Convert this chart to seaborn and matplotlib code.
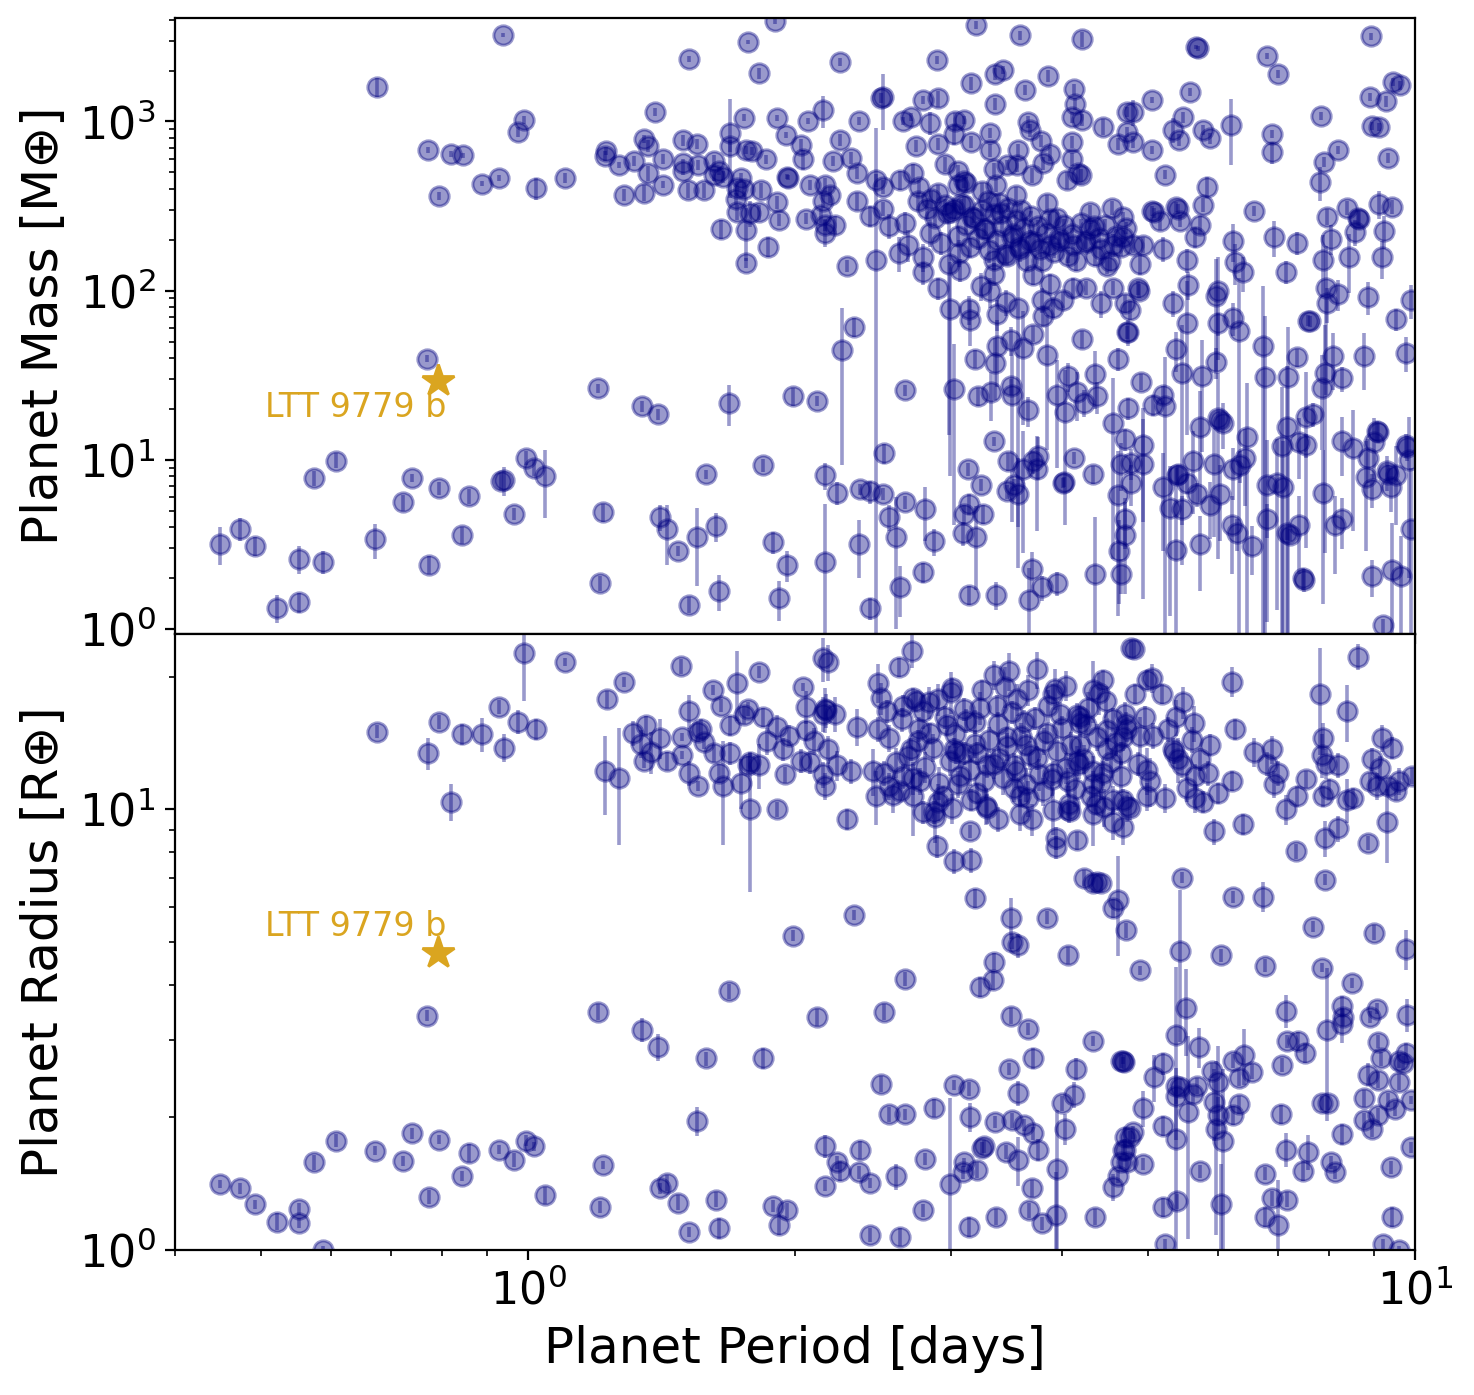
import matplotlib
matplotlib.use("Agg")
import matplotlib.pyplot as plt
import seaborn as sns

# Known planets: orbital period [days], mass [Earth masses], mass error
mass_period = [
    0.676, 0.772, 0.819, 0.845, 0.794, 0.888, 0.928, 0.937, 0.770, 0.608,
    0.574, 0.740, 0.794, 0.723, 0.858, 0.932, 0.450, 0.474, 0.493, 0.552,
    0.588, 0.672, 0.843, 0.774, 0.521, 0.552,
    1.52, 1.77, 1.90, 1.82, 1.39, 0.99, 0.974, 1.02, 1.10, 1.224,
    1.22, 1.266, 1.316, 1.35, 1.365, 1.365, 1.283, 1.35, 1.42, 1.42,
    1.495, 1.55, 1.495, 1.556, 1.62, 1.514, 1.58, 1.62, 1.66, 1.69,
    1.69, 1.75, 1.76, 1.79, 1.854, 1.907, 1.952, 2.07, 2.03, 2.04,
    2.15, 1.74, 1.72, 1.75, 1.83, 1.715, 1.72, 1.78, 1.82, 1.91,
    1.92, 1.65, 1.76, 1.76, 1.864, 1.96, 1.965, 2.06, 2.08, 2.15,
    2.16, 2.16, 1.495, 1.64, 1.20, 1.344, 1.40, 1.685, 1.99, 2.12,
    0.995, 1.016, 1.045, 0.94, 0.964, 1.215, 1.586, 1.84, 1.41, 1.434,
    1.475, 1.55, 1.628, 1.89, 1.957, 2.16, 2.16, 1.205, 1.52, 1.64,
    1.92,
    3.20, 3.59, 4.21, 2.25, 2.89, 2.51, 2.50, 2.786, 2.90, 3.365,
    3.43, 3.16, 3.63, 3.86, 4.13, 4.14, 3.365, 4.10, 4.21, 4.45,
    4.63, 4.74, 2.36, 2.65, 2.70, 2.84, 3.03, 3.10, 2.245, 3.02,
    3.16, 3.32, 3.32, 3.66, 3.68, 3.79, 3.57, 4.10, 3.88, 2.735,
    2.90, 4.10, 3.56, 3.81, 4.17, 4.20, 2.21, 2.31, 2.35, 2.35,
    2.16, 2.19, 2.14, 2.22, 2.466, 2.51, 2.51, 2.43, 2.55, 2.63,
    2.715, 2.76, 2.66, 2.75, 2.82, 2.68, 2.62, 2.79, 2.79, 2.90,
    2.84, 2.92, 2.90, 2.97, 3.02, 3.10, 3.10, 3.12, 3.05, 3.06,
    3.07, 2.98, 3.17, 3.27, 3.30, 3.37, 3.41, 3.47, 3.51, 3.59,
    3.68, 3.78, 3.88, 3.98, 4.12, 4.26, 4.42, 4.57, 3.47, 3.35,
    3.35, 3.24, 3.32, 3.14, 3.15, 2.99, 3.38, 3.46, 3.57, 3.38,
    3.50, 3.61, 3.365, 3.19, 3.71, 3.85, 3.71, 3.80, 3.88, 3.91,
    4.01, 4.12, 4.26, 4.42, 4.57, 4.71, 3.81, 4.21, 4.62, 4.74,
    4.36, 4.06, 3.95, 4.16, 4.38, 4.03, 4.24, 4.57, 3.66, 3.50,
    3.51, 3.33, 3.22, 3.02, 2.66, 2.26, 2.33, 2.29, 2.466, 2.52,
    2.23, 2.37, 2.43, 2.51, 2.55, 2.60, 2.66, 2.80, 2.87, 2.36,
    2.63, 2.79, 2.43, 3.13, 3.24, 3.14, 3.10, 3.26, 3.09, 3.20,
    3.14, 3.37, 3.35, 3.48, 3.61, 3.71, 3.76, 3.75, 3.47, 3.57,
    3.53, 4.01, 4.02, 4.13, 4.33, 4.63, 4.66, 3.70, 3.67, 3.80,
    3.95, 4.36, 4.64, 4.66,
    5.67, 5.70, 6.81, 7.01, 8.92, 9.44, 9.62, 5.05, 5.57, 4.81,
    5.48, 5.34, 5.42, 5.77, 5.87, 6.21, 4.74, 4.81, 5.05, 5.23,
    5.82, 6.90, 6.90, 7.84, 8.19, 7.90, 7.82, 8.89, 9.28, 8.94,
    9.10, 9.33, 6.59, 8.38, 8.62, 8.64, 9.10, 9.42, 8.56, 9.22,
    7.96, 8.03, 6.93, 7.36, 6.24, 6.27, 6.39, 7.16, 7.88, 8.43,
    9.18, 7.94, 7.96, 8.19, 8.84, 9.9, 9.53, 7.58, 7.62, 7.36,
    8.08, 8.75, 9.78, 7.92, 8.28, 7.86, 7.20, 6.78, 5.97, 5.37,
    6.74, 5.46, 5.75, 4.91, 6.0, 5.96, 5.55, 5.34, 5.53, 6.0,
    6.24, 6.34, 4.87, 4.89, 4.77, 4.75, 4.81, 4.94, 5.05, 5.08,
    5.16, 5.37, 5.40, 5.44, 5.65, 5.72, 5.77, 5.2, 5.53, 4.90,
    4.69, 4.69, 5.2, 5.07, 5.23, 4.75, 5.72, 6.0, 6.02, 6.07,
    6.47, 7.18, 7.54, 7.67, 7.40, 7.54, 7.08, 8.28, 8.51, 8.84,
    9.06, 9.09, 9.0, 9.29, 9.32, 9.52, 9.76, 9.80, 9.85, 9.39,
    8.94, 8.81, 4.71, 4.78, 4.93, 4.93, 4.78, 5.2, 5.39, 5.41,
    5.53, 5.62, 5.3, 5.46, 5.68, 5.88, 5.93, 6.03, 6.24, 6.43,
    6.35, 6.81, 6.98, 7.10, 6.81, 6.22, 6.30, 7.18, 7.22, 7.40,
    8.13, 8.28, 7.88, 6.55, 5.38, 5.72, 7.47, 7.50, 8.94, 9.42,
    9.65, 9.2, 9.9, 4.71, 4.71,
]
mass_value = [
    1600, 679, 643, 630, 363, 428, 464, 3240, 39.7, 9.9,
    7.8, 7.8, 6.8, 5.6, 6.1, 7.5, 3.2, 3.9, 3.1, 2.6,
    2.5, 3.4, 3.6, 2.4, 1.33, 1.44,
    2340, 2940, 3920, 1930, 1138, 1020, 867, 405, 464, 670,
    626, 554, 585, 788, 717, 497, 368, 379, 422, 601,
    773, 737, 569, 554, 585, 394, 394, 484, 471, 855,
    717, 1050, 679, 670, 597, 1050, 832, 1007, 727, 597,
    1170, 464, 405, 400, 394, 349, 292, 289, 292, 335,
    262, 232, 229, 146, 182, 471, 465, 266, 422, 340,
    245, 220, 510, 510, 26.4, 20.7, 18.6, 21.8, 23.7, 22.4,
    10.3, 9.0, 8.0, 7.6, 4.8, 4.9, 8.2, 9.3, 4.6, 3.9,
    2.9, 3.5, 4.05, 3.26, 2.39, 2.49, 8.1, 1.87, 1.39, 1.68,
    1.52,
    3710, 3240, 3070, 2244, 2306, 1395, 1380, 1340, 1370, 1906,
    2014, 1687, 1534, 1855, 1555, 1268, 1268, 1064, 1020, 929,
    737, 1138, 1007, 1007, 1064, 980, 1007, 1020, 778, 844,
    757, 855, 679, 993, 891, 767, 679, 757, 643, 717,
    737, 597, 554, 569, 497, 480, 585, 609, 497, 340,
    422, 370, 280, 245, 452, 411, 305, 277, 242, 452,
    497, 411, 252, 340, 305, 187, 168, 159, 128, 103,
    220, 192, 379, 289, 305, 322, 445, 430, 510, 168,
    133, 144, 273, 232, 340, 422, 289, 554, 208, 177,
    197, 177, 187, 197, 187, 197, 177, 187, 161, 152,
    126, 107, 99, 78, 67, 78, 73, 86, 79, 47,
    51, 46, 37.6, 39.7, 55.7, 41.4, 123, 88.5, 110, 79,
    88.5, 104, 104, 84, 104, 84, 71, 52, 39.7, 57,
    32, 31.1, 24, 25, 23.7, 19.1, 21.8, 16.6, 19.6, 27.2,
    24.3, 25, 23.7, 26.1, 25.7, 44.3, 61.3, 140, 152, 10.9,
    6.4, 6.7, 6.5, 6.3, 4.6, 3.5, 5.6, 5.1, 3.3, 3.2,
    1.77, 2.17, 1.33, 8.8, 7.1, 5.5, 4.8, 4.8, 3.7, 3.5,
    1.59, 1.59, 12.9, 9.8, 8.8, 9.8, 10.6, 8.8, 6.5, 6.3,
    7.1, 7.3, 7.4, 10.3, 8.2, 6.2, 9.5, 2.26, 1.48, 1.77,
    1.87, 2.11, 2.9, 2.11,
    2750, 2700, 2434, 1906, 3195, 1711, 1643, 1340, 1493, 1138,
    1064, 891, 778, 891, 800, 953, 867, 757, 679, 484,
    411, 844, 661, 1078, 679, 577, 440, 1395, 1321, 940,
    929, 609, 297, 309, 270, 265, 326, 313, 223, 226,
    273, 203, 208, 192, 197, 148, 128, 129, 152, 157,
    157, 104, 84, 96, 92, 88, 68, 66.5, 66, 40.3,
    41, 41, 43, 32.8, 30.3, 26.4, 30.7, 31, 38.1, 44.9,
    47, 32.4, 31.1, 29, 99, 93.5, 108, 85, 64, 64,
    69, 58, 104, 100, 77, 57, 187, 187, 297, 290,
    259, 313, 305, 259, 208, 245, 322, 177, 152, 144,
    273, 208, 24.3, 21.2, 20.7, 20.2, 15.6, 17.6, 17.3, 16.6,
    13.6, 15.7, 18, 18.6, 12.7, 12.2, 12.0, 13, 11.8, 10.3,
    14.9, 14.6, 12.7, 8.55, 8.3, 8.1, 12.3, 11.9, 10, 6.9,
    6.7, 7.9, 13.2, 9.6, 12.3, 9.5, 7.3, 6.9, 8.1, 8.3,
    7.3, 9.8, 5.2, 5.1, 6.25, 5.4, 9.5, 6.3, 8.8, 10.3,
    9.3, 7.1, 7.3, 6.9, 4.46, 4.1, 3.68, 3.68, 3.6, 4.1,
    4.1, 4.46, 6.4, 3.09, 2.92, 3.17, 2.0, 1.95, 2.05, 2.23,
    2.05, 1.05, 3.9, 4.46, 3.6,
]
mass_err = [
    200, 25, 25, 25, 20, 15, 20, 100, 2, 1.0,
    0.8, 0.4, 0.6, 0.6, 0.6, 0.9, 0.8, 0.6, 0.4, 0.5,
    0.4, 0.8, 0.4, 0.3, 0.25, 0.2,
    100, 80, 150, 150, 60, 60, 60, 60, 30, 40,
    40, 25, 40, 40, 60, 50, 30, 40, 20, 40,
    60, 50, 30, 40, 50, 40, 40, 40, 40, 500,
    60, 50, 40, 40, 40, 40, 30, 40, 60, 80,
    250, 30, 40, 40, 40, 30, 30, 50, 30, 30,
    20, 30, 80, 10, 25, 15, 15, 20, 30, 30,
    20, 40, 30, 30, 1.5, 1.5, 1.5, 6, 3, 1.5,
    1.0, 1.0, 3.5, 1.5, 0.4, 0.6, 0.5, 0.8, 0.8, 1.5,
    0.2, 1.7, 0.8, 0.5, 0.5, 3.0, 1.5, 0.2, 0.15, 0.4,
    0.4,
    200, 200, 300, 120, 120, 500, 100, 80, 150, 150,
    100, 150, 100, 150, 120, 100, 100, 80, 80, 100,
    60, 80, 60, 60, 60, 150, 120, 60, 60, 120,
    60, 60, 60, 80, 80, 60, 60, 60, 60, 60,
    60, 50, 50, 50, 60, 40, 40, 50, 40, 40,
    40, 40, 30, 30, 40, 40, 30, 40, 40, 60,
    60, 40, 40, 40, 40, 40, 40, 30, 20, 15,
    40, 30, 40, 40, 40, 40, 40, 40, 40, 30,
    20, 130, 30, 30, 40, 40, 30, 40, 30, 30,
    30, 20, 20, 20, 20, 20, 20, 30, 20, 20,
    20, 20, 20, 15, 20, 70, 15, 15, 75, 20,
    10, 30, 15, 5, 6, 30, 15, 15, 15, 10,
    10, 15, 10, 15, 10, 10, 10, 6, 6, 5,
    12, 6, 15, 8, 5, 15, 4, 14, 4, 3,
    20, 8, 3, 22, 2, 35, 8, 12, 760, 1.5,
    1.0, 0.5, 1.0, 0.5, 0.8, 2.5, 0.5, 1.8, 0.6, 1.2,
    0.6, 0.3, 0.2, 0.8, 0.6, 0.8, 0.6, 0.6, 0.6, 1.8,
    0.2, 0.3, 0.8, 1.2, 6, 1.5, 3, 5, 0.6, 4,
    0.6, 0.5, 0.5, 0.8, 1.0, 5, 3, 0.6, 0.8, 0.3,
    0.3, 2.5, 1.5, 0.5,
    80, 80, 100, 100, 150, 100, 100, 60, 80, 200,
    80, 150, 60, 60, 60, 400, 60, 60, 40, 30,
    60, 50, 100, 60, 40, 40, 100, 80, 100, 50,
    50, 40, 20, 30, 30, 30, 60, 30, 40, 50,
    30, 40, 50, 30, 50, 40, 30, 20, 60, 60,
    40, 80, 20, 20, 20, 20, 10, 5, 5, 5,
    15, 15, 10, 30, 5, 15, 30, 40, 8, 12,
    60, 30, 20, 3, 60, 60, 20, 15, 50, 10,
    15, 60, 10, 10, 10, 10, 20, 20, 20, 20,
    30, 20, 20, 20, 30, 30, 30, 30, 25, 20,
    20, 20, 3, 3, 20, 3, 10, 15, 2, 5,
    15, 20, 15, 3, 5, 2, 15, 5, 8, 3,
    2, 2, 5, 2, 1, 4, 2, 2, 8, 2,
    1.5, 5, 2, 2, 8, 8, 2, 4, 1, 1,
    1, 5, 4, 1, 1, 2, 6, 3, 3, 5,
    2, 6, 6, 6, 1, 2, 0.8, 0.3, 0.3, 2,
    2, 1.5, 5, 1, 6, 1.5, 0.3, 0.3, 0.5, 2,
    1.5, 0.1, 5, 1.5, 2,
]

# Crowded hot-Jupiter band (3-5 days) in the mass panel
band_mass_period = [
    3.00, 3.05, 3.08, 3.12, 3.15, 3.18, 3.22, 3.25, 3.28, 3.31,
    3.35, 3.38, 3.42, 3.45, 3.48, 3.52, 3.55, 3.58, 3.62, 3.65,
    3.69, 3.72, 3.76, 3.80, 3.84, 3.88, 3.92, 3.97, 4.02, 4.06,
    4.10, 4.15, 4.20, 4.25, 4.30, 4.36, 4.40, 4.47, 4.53, 4.60,
    4.66, 4.72, 2.95, 2.88, 2.85, 3.40, 3.60, 3.95, 4.35, 4.50,
    3.05, 3.25, 3.55, 3.85, 4.30, 4.05, 3.70, 3.35, 2.95, 4.55,
]
band_mass_value = [
    290, 210, 325, 245, 180, 270, 205, 300, 230, 175,
    285, 200, 240, 165, 310, 215, 260, 180, 235, 150,
    275, 195, 240, 150, 220, 265, 170, 205, 245, 160,
    215, 150, 250, 190, 230, 160, 205, 245, 150, 210,
    180, 235, 320, 270, 350, 330, 300, 270, 240, 140,
    420, 390, 370, 330, 290, 450, 480, 520, 560, 310,
]
band_mass_err = [
    30, 30, 25, 30, 25, 20, 30, 25, 20, 30,
    25, 20, 25, 20, 20, 25, 20, 20, 25, 20,
    20, 20, 20, 20, 20, 20, 15, 20, 20, 15,
    20, 20, 15, 20, 20, 20, 15, 20, 20, 20,
    20, 20, 30, 30, 40, 40, 30, 30, 30, 15,
    40, 40, 40, 40, 30, 50, 50, 50, 60, 30,
]

# Known planets: orbital period [days], radius [Earth radii], radius error
radius_period = [
    0.676, 0.794, 0.772, 0.843, 0.888, 0.928, 0.94, 0.819, 0.770, 0.450,
    0.474, 0.493, 0.521, 0.552, 0.552, 0.588, 0.574, 0.608, 0.672, 0.723,
    0.740, 0.794, 0.858, 0.843, 0.774, 0.928,
    0.99, 1.10, 0.974, 1.02, 1.283, 1.227, 1.487, 1.22, 1.266, 1.313,
    1.34, 1.358, 1.375, 1.35, 1.41, 1.434, 1.49, 1.49, 1.52, 1.555,
    1.565, 1.58, 1.62, 1.52, 1.555, 1.616, 1.72, 1.82, 1.65, 1.69,
    1.75, 1.77, 1.69, 1.77, 1.78, 1.64, 1.66, 1.74, 1.78, 1.82,
    1.84, 1.91, 1.86, 1.95, 1.91, 1.97, 1.94, 2.04, 2.06, 2.03,
    2.08, 2.06, 2.15, 2.15, 2.17, 2.16, 2.15, 2.10, 1.99, 1.685,
    2.12, 1.20, 1.344, 1.40, 1.586, 1.84, 1.55, 0.995, 1.016, 0.964,
    1.045, 1.215, 1.205, 1.41, 1.434, 1.475, 1.628, 1.52, 1.64, 1.89,
    1.957, 1.92, 2.16, 2.16,
    2.71, 2.62, 2.48, 2.50, 2.18, 3.01, 3.49, 3.75, 3.35, 4.04,
    4.45, 4.34, 4.78, 3.25, 3.66, 2.72, 2.74, 2.16, 2.22, 2.35,
    2.48, 2.54, 2.65, 2.79, 2.90, 3.10, 3.19, 3.38, 3.56, 3.62,
    3.91, 3.98, 4.16, 4.19, 4.26, 4.48, 4.57, 4.68, 2.18, 2.23,
    2.31, 2.45, 2.52, 2.55, 2.47, 2.63, 2.65, 2.70, 2.77, 2.72,
    2.79, 2.87, 2.88, 2.89, 3.02, 3.16, 3.15, 3.01, 2.94, 3.05,
    3.02, 3.04, 3.10, 2.97, 2.84, 2.75, 3.21, 3.29, 3.40, 3.21,
    3.16, 3.29, 3.39, 3.53, 3.59, 3.59, 3.70, 3.53, 3.47, 3.64,
    3.75, 3.85, 3.81, 3.91, 3.91, 4.06, 4.08, 3.94, 3.94, 4.16,
    4.06, 4.16, 4.18, 4.19, 4.34, 4.31, 4.37, 4.33, 4.45, 4.50,
    4.66, 4.57, 4.56, 4.68, 4.74, 2.29, 4.24, 4.34, 4.38, 4.42,
    4.62, 4.56, 4.72, 3.19, 3.50, 3.85, 3.51, 3.57, 4.06, 3.35,
    3.34, 3.23, 2.33, 2.66, 2.52, 3.50, 3.66, 4.33, 3.71, 3.49,
    4.15, 4.66, 4.70, 3.57, 4.13, 4.00, 4.03, 3.95, 2.50, 3.02,
    3.14, 2.55, 2.66, 2.87, 3.15, 3.365, 3.51, 3.62, 3.71, 3.76,
    3.57, 3.46, 3.25, 3.27, 3.21, 3.10, 3.09, 2.99, 2.80, 2.60,
    2.43, 2.36, 2.37, 2.25, 2.23, 2.79, 2.43, 2.63, 3.14, 3.37,
    3.67, 3.80, 3.94, 3.70, 4.36, 4.57, 4.66, 4.71, 4.69, 4.62,
    4.82, 5.05, 4.99, 4.84, 5.18, 5.48, 5.37, 4.96, 4.71, 4.74,
    4.90, 5.07, 5.26, 5.64, 5.61, 5.88, 5.33, 5.35, 5.41, 5.46,
    5.72, 5.84, 5.65, 4.99, 4.87, 5.03, 4.99, 5.23, 5.53, 5.65,
    5.77, 6.0, 6.22, 4.77, 4.69, 6.22, 6.27, 6.59, 6.90, 6.81,
    7.01, 6.93, 7.54, 7.36, 7.16, 7.34, 7.82, 7.88, 7.86, 7.94,
    8.19, 8.0, 7.88, 8.38, 8.62, 9.18, 9.42, 8.94, 9.12, 8.89,
    9.06, 9.33, 9.53, 9.58, 9.92, 8.51, 8.38, 9.29, 8.84, 8.19,
    7.92, 5.93, 6.39, 5.46, 6.24, 6.74, 7.92, 7.67, 9.0, 9.78,
    5.44, 5.52, 4.90, 6.05, 6.78, 7.86, 8.49, 8.28, 8.30, 8.28,
    9.06, 8.89, 9.8, 7.16, 7.96, 7.18, 7.38, 7.51, 7.08, 9.08,
    5.37, 5.71, 4.69, 5.2, 5.08, 4.94, 5.37, 5.44, 5.37, 5.68,
    5.62, 5.55, 5.9, 5.99, 5.93, 6.0, 5.96, 6.07, 6.24, 6.41,
    6.55, 6.34, 6.24, 6.34, 5.2, 5.37, 4.81, 4.77, 4.71, 4.74,
    4.93, 5.72, 6.78, 7.06, 7.16, 7.58, 7.47, 7.86, 7.98, 8.28,
    8.05, 8.13, 8.86, 9.16, 9.08, 9.58, 9.78, 9.68, 9.58, 8.77,
    9.33, 9.50, 9.08, 8.77, 8.94, 9.39, 9.42, 9.2, 9.6, 9.9,
    9.9, 5.2, 5.39, 5.23, 6.05, 6.90, 7.18, 6.78, 7.01,
]
radius_value = [
    15.0, 15.8, 13.4, 14.8, 14.8, 17.1, 13.8, 10.4, 3.40, 1.41,
    1.38, 1.27, 1.16, 1.24, 1.15, 1.0, 1.58, 1.77, 1.68, 1.59,
    1.84, 1.78, 1.66, 1.47, 1.32, 1.69,
    22.6, 21.6, 15.8, 15.2, 19.5, 17.8, 21.1, 12.2, 11.8, 14.9,
    14.1, 15.5, 13.5, 12.9, 14.5, 12.9, 14.6, 13.3, 16.7, 15.0,
    15.2, 14.2, 13.4, 12.1, 11.3, 18.7, 19.4, 20.5, 17.2, 15.5,
    16.4, 16.9, 13.4, 12.6, 12.8, 12.1, 11.3, 11.5, 10.0, 12.6,
    16.2, 15.4, 14.3, 12.0, 10.0, 14.7, 13.7, 19.0, 17.1, 12.9,
    12.8, 15.1, 22.0, 16.5, 16.8, 11.3, 12.0, 14.3, 5.17, 3.86,
    3.38, 3.47, 3.16, 2.89, 2.72, 2.73, 1.96, 1.77, 1.72, 1.60,
    1.33, 1.56, 1.25, 1.38, 1.42, 1.28, 1.30, 1.10, 1.12, 1.26,
    1.23, 1.14, 1.72, 1.40,
    22.9, 21.0, 19.4, 17.9, 21.6, 18.9, 20.6, 20.8, 20.2, 19.1,
    19.7, 18.7, 23.2, 18.7, 18.7, 17.9, 17.6, 16.9, 16.5, 15.4,
    15.2, 16.7, 17.2, 16.7, 17.8, 16.9, 15.8, 17.2, 17.8, 15.8,
    18.3, 16.5, 16.4, 16.2, 15.5, 17.6, 16.0, 14.6, 13.7, 12.6,
    12.2, 12.2, 12.1, 11.3, 10.7, 11.0, 11.9, 13.7, 11.6, 10.7,
    9.85, 9.85, 9.6, 8.24, 7.62, 7.66, 8.91, 10.05, 10.7, 11.4,
    13.7, 13.5, 13.4, 15.5, 14.9, 14.3, 13.4, 12.6, 13.1, 10.9,
    10.5, 10.05, 9.5, 11.2, 10.7, 9.75, 9.5, 12.6, 14.6, 14.0,
    13.1, 14.9, 11.0, 12.1, 9.95, 9.95, 9.9, 8.6, 8.2, 8.5,
    11.6, 12.9, 12.7, 14.0, 11.4, 10.7, 10.3, 9.75, 12.1, 13.7,
    13.4, 10.5, 9.34, 9.1, 10.15, 9.5, 7.0, 6.79, 6.85, 6.79,
    6.24, 5.96, 5.31, 6.28, 5.68, 5.68, 5.01, 4.91, 4.66, 4.51,
    4.09, 3.96, 5.77, 4.13, 3.47, 3.40, 3.18, 2.98, 2.73, 2.57,
    2.58, 2.69, 2.67, 2.27, 2.25, 2.15, 1.88, 1.53, 2.38, 2.37,
    2.32, 2.03, 2.03, 2.10, 2.0, 1.95, 1.97, 1.92, 1.84, 1.69,
    1.60, 1.67, 1.70, 1.72, 1.52, 1.58, 1.50, 1.41, 1.61, 1.47,
    1.42, 1.50, 1.69, 1.51, 1.58, 1.23, 1.08, 1.07, 1.13, 1.19,
    1.23, 1.15, 1.20, 1.38, 1.19, 1.39, 1.58, 1.80, 1.69, 1.47,
    23.1, 19.9, 19.7, 18.3, 18.3, 17.5, 16.2, 16.2, 16.5, 15.2,
    14.7, 14.7, 15.2, 15.7, 14.4, 14.0, 13.7, 13.5, 13.0, 12.6,
    13.0, 12.1, 11.9, 12.3, 12.7, 11.6, 10.7, 10.6, 11.2, 10.6,
    10.4, 10.9, 11.6, 10.05, 10.5, 19.5, 15.2, 13.5, 13.7, 12.7,
    12.1, 11.4, 11.7, 10.7, 10.0, 8.03, 18.3, 14.5, 13.3, 12.7,
    12.6, 11.1, 10.7, 16.7, 22.2, 14.5, 13.8, 13.0, 12.4, 11.6,
    11.3, 11.3, 11.0, 11.6, 11.9, 10.6, 10.5, 9.34, 8.4, 9.05,
    8.6, 8.91, 9.25, 7.0, 6.34, 6.34, 6.93, 5.42, 5.25, 4.81,
    4.76, 3.55, 4.31, 4.66, 4.42, 4.37, 4.04, 3.57, 3.38, 3.25,
    3.53, 3.38, 3.42, 3.49, 3.16, 2.98, 2.98, 2.80, 2.63, 2.97,
    3.08, 2.89, 2.69, 2.65, 2.47, 2.10, 2.36, 2.34, 2.24, 2.36,
    2.26, 2.06, 2.55, 2.41, 2.17, 2.02, 1.88, 1.77, 2.69, 2.77,
    2.54, 2.46, 2.02, 2.14, 1.91, 1.79, 1.85, 1.80, 1.69, 1.58,
    1.57, 1.51, 1.49, 2.03, 1.69, 1.67, 1.51, 2.16, 2.16, 1.83,
    1.58, 1.50, 2.5, 2.72, 2.43, 2.69, 2.80, 2.66, 2.41, 2.21,
    2.19, 2.09, 2.02, 1.97, 1.88, 1.54, 1.19, 1.03, 1.0, 1.71,
    2.19, 1.25, 1.29, 1.03, 1.27, 1.31, 1.30, 1.19, 1.14,
]
radius_err = [
    0.5, 0.6, 1.1, 0.8, 1.3, 0.6, 1.0, 1.0, 0.1, 0.03,
    0.04, 0.03, 0.05, 0.04, 0.03, 0.02, 0.06, 0.06, 0.04, 0.04,
    0.05, 0.04, 0.08, 0.04, 0.05, 0.04,
    5, 0.5, 1.0, 0.8, 0.5, 0.8, 0.8, 2.5, 3.5, 1.0,
    1.0, 0.8, 1.5, 0.5, 1.5, 0.6, 0.3, 0.3, 1.5, 0.8,
    0.8, 0.5, 0.6, 0.8, 0.3, 0.5, 3.5, 0.6, 0.6, 0.8,
    0.8, 0.6, 0.8, 0.6, 0.6, 0.6, 3, 1.5, 3.5, 1.5,
    0.8, 1.0, 1.0, 0.5, 0.4, 0.8, 0.8, 0.4, 1.5, 0.8,
    0.8, 0.8, 2.5, 1.5, 1.5, 0.8, 0.8, 1.0, 0.15, 0.15,
    0.15, 0.15, 0.2, 0.2, 0.1, 0.15, 0.15, 0.05, 0.04, 0.06,
    0.06, 0.03, 0.04, 0.04, 0.06, 0.05, 0.05, 0.03, 0.06, 0.04,
    0.05, 0.06, 0.1, 0.04,
    2, 1, 2, 1.5, 2, 1, 2, 2, 1.5, 1.5,
    1, 3, 1, 1, 1.5, 1, 1, 2, 1.5, 1.5,
    1, 1, 1, 1.5, 1.5, 1, 1, 1, 1.5, 1,
    1, 1, 1, 1, 1, 1.5, 1, 1, 1, 1,
    0.8, 1.5, 0.8, 0.8, 1.5, 0.5, 0.8, 0.8, 0.8, 2,
    0.6, 0.6, 1.2, 0.5, 0.5, 0.5, 0.3, 0.8, 0.6, 0.8,
    0.8, 0.8, 0.8, 0.8, 0.8, 0.8, 0.8, 0.8, 0.8, 0.6,
    0.6, 0.8, 0.6, 0.8, 0.6, 0.8, 0.8, 0.8, 0.8, 0.8,
    0.8, 0.8, 0.8, 0.8, 1.2, 0.4, 0.4, 0.5, 0.5, 0.4,
    0.8, 1, 1, 0.8, 0.8, 0.6, 0.6, 1.5, 0.8, 0.8,
    0.8, 0.8, 0.8, 0.8, 0.8, 0.5, 0.3, 0.3, 0.3, 0.3,
    1.6, 0.3, 0.2, 0.3, 0.6, 0.2, 0.2, 0.3, 0.2, 0.2,
    0.2, 0.2, 0.15, 0.15, 0.15, 0.15, 0.1, 0.08, 0.15, 0.08,
    0.15, 0.1, 0.1, 0.15, 0.15, 0.08, 0.15, 0.55, 0.1, 0.06,
    0.08, 0.08, 0.06, 0.1, 0.15, 0.06, 0.08, 0.06, 0.06, 0.1,
    0.2, 0.06, 0.06, 0.06, 0.06, 0.04, 0.05, 0.8, 0.05, 0.1,
    0.04, 0.05, 0.08, 0.08, 0.05, 0.04, 0.04, 0.05, 0.06, 0.05,
    0.05, 0.04, 0.3, 0.06, 0.05, 0.1, 0.05, 0.1, 0.05, 0.05,
    1, 1.5, 1, 1, 1, 1.5, 1.5, 1, 1, 1,
    1.5, 1, 1, 1.5, 1, 0.8, 0.8, 0.8, 1.5, 0.8,
    0.8, 0.8, 0.8, 1.5, 0.8, 1.5, 0.8, 0.8, 0.8, 0.8,
    0.6, 0.6, 0.6, 0.6, 0.6, 1.5, 0.8, 1.0, 1.0, 0.8,
    0.8, 0.8, 0.5, 0.6, 0.8, 0.3, 5, 1.2, 1.5, 1.0,
    0.8, 0.6, 0.6, 2.5, 1.5, 1.0, 0.8, 0.8, 0.8, 0.5,
    0.8, 0.5, 0.5, 0.8, 0.5, 0.6, 1.2, 1.8, 0.3, 0.6,
    0.8, 0.6, 0.5, 0.2, 0.2, 0.5, 0.2, 0.15, 0.2, 0.5,
    1.8, 0.8, 0.1, 0.15, 0.15, 0.1, 0.1, 0.2, 0.15, 0.3,
    0.1, 0.1, 0.3, 0.3, 1.2, 0.1, 0.15, 0.15, 0.1, 0.1,
    1.3, 0.3, 0.05, 0.15, 0.3, 0.2, 0.1, 0.1, 0.1, 0.1,
    0.1, 1.0, 0.1, 0.5, 0.4, 0.2, 0.8, 0.8, 0.1, 0.4,
    0.1, 0.1, 0.1, 0.1, 0.1, 0.8, 0.06, 0.06, 0.1, 0.06,
    0.05, 0.05, 0.05, 0.1, 0.15, 0.15, 0.08, 0.08, 0.08, 0.1,
    0.05, 0.05, 0.15, 0.1, 0.1, 0.1, 0.15, 0.1, 0.1, 0.1,
    0.08, 0.08, 0.08, 0.08, 0.08, 0.05, 0.06, 0.03, 0.02, 0.05,
    0.05, 0.06, 0.05, 0.03, 0.3, 0.05, 0.05, 0.06, 0.3,
]

# Crowded inflated hot-Jupiter band (2.5-5 days) in the radius panel
band_radius_period = [
    2.55, 2.60, 2.64, 2.68, 2.72, 2.76, 2.80, 2.83, 2.86, 2.91,
    2.95, 2.99, 3.03, 3.07, 3.12, 3.15, 3.19, 3.23, 3.27, 3.31,
    3.35, 3.39, 3.43, 3.47, 3.51, 3.55, 3.60, 3.64, 3.68, 3.73,
    3.77, 3.82, 3.86, 3.90, 3.95, 4.00, 4.04, 4.09, 4.14, 4.19,
    4.23, 4.28, 4.33, 4.38, 4.43, 4.49, 4.54, 4.60, 4.66, 4.72,
    2.58, 2.90, 3.28, 3.66, 4.07, 4.46, 3.00, 3.45, 3.93, 4.40,
]
band_radius_value = [
    14.5, 12.8, 16.0, 13.2, 11.8, 15.2, 12.5, 17.5, 13.8, 11.5,
    16.2, 12.9, 14.8, 11.9, 15.9, 12.3, 14.1, 17.0, 11.6, 14.4,
    12.7, 15.6, 11.8, 13.9, 16.6, 12.2, 14.7, 11.4, 13.3, 16.1,
    12.0, 14.3, 17.2, 11.7, 13.6, 15.3, 12.4, 14.0, 11.1, 15.7,
    13.0, 17.0, 12.2, 14.6, 11.5, 15.1, 12.8, 14.2, 11.9, 15.6,
    10.8, 10.4, 10.2, 10.6, 10.3, 10.1, 18.5, 19.0, 18.8, 18.4,
]
band_radius_err = [
    1, 1, 1, 1, 1, 1, 1, 1.5, 1, 1,
    1, 1, 1, 1, 1, 1, 1, 1.5, 1, 1,
    1, 1, 1, 1, 1, 1, 1, 1, 1, 1,
    1, 1, 1.5, 1, 1, 1, 1, 1, 1, 1,
    1, 1.5, 1, 1, 1, 1, 1, 1, 1, 1,
    1, 1, 1, 1, 1, 1, 2, 2, 2, 2,
]

# Highlighted planet
ltt_name = "LTT 9779 b"
ltt_period = 0.792
ltt_mass = 29.3
ltt_radius = 4.72

fig, (ax_m, ax_r) = plt.subplots(2, 1, sharex=True, figsize=(7.37, 6.975), dpi=200)
fig.subplots_adjust(left=0.1187, right=0.96, top=0.987, bottom=0.104, hspace=0)

panels = [
    (ax_m, mass_period + band_mass_period, mass_value + band_mass_value,
     mass_err + band_mass_err),
    (ax_r, radius_period + band_radius_period, radius_value + band_radius_value,
     radius_err + band_radius_err),
]
for ax, px, py, pe in panels:
    ax.set_xscale("log")
    ax.set_yscale("log")
    ax.errorbar(px, py, yerr=pe, fmt="none", ecolor="navy", elinewidth=1.3, alpha=0.4)
    sns.scatterplot(x=px, y=py, ax=ax, color="navy", edgecolor="navy", s=48,
                    linewidth=1.1, alpha=0.4, legend=False)
    ax.tick_params(axis="both", which="both", labelsize=16)

ax_m.plot(ltt_period, ltt_mass, marker="*", color="goldenrod", ms=12, ls="none", zorder=5)
ax_r.plot(ltt_period, ltt_radius, marker="*", color="goldenrod", ms=12, ls="none", zorder=5)
ax_m.text(0.505, 18.0, ltt_name, color="goldenrod", fontsize=12, va="baseline")
ax_r.text(0.505, 5.15, ltt_name, color="goldenrod", fontsize=12, va="baseline")

ax_r.set_xlim(0.4, 10)
ax_m.set_ylim(0.934, 4080)
ax_r.set_ylim(1, 25)

ax_m.set_ylabel("Planet Mass [M⊕]", fontsize=18)
ax_r.set_ylabel("Planet Radius [R⊕]", fontsize=18)
ax_r.set_xlabel("Planet Period [days]", fontsize=18)
fig.align_ylabels([ax_m, ax_r])

fig.savefig("out.png", dpi=200)
